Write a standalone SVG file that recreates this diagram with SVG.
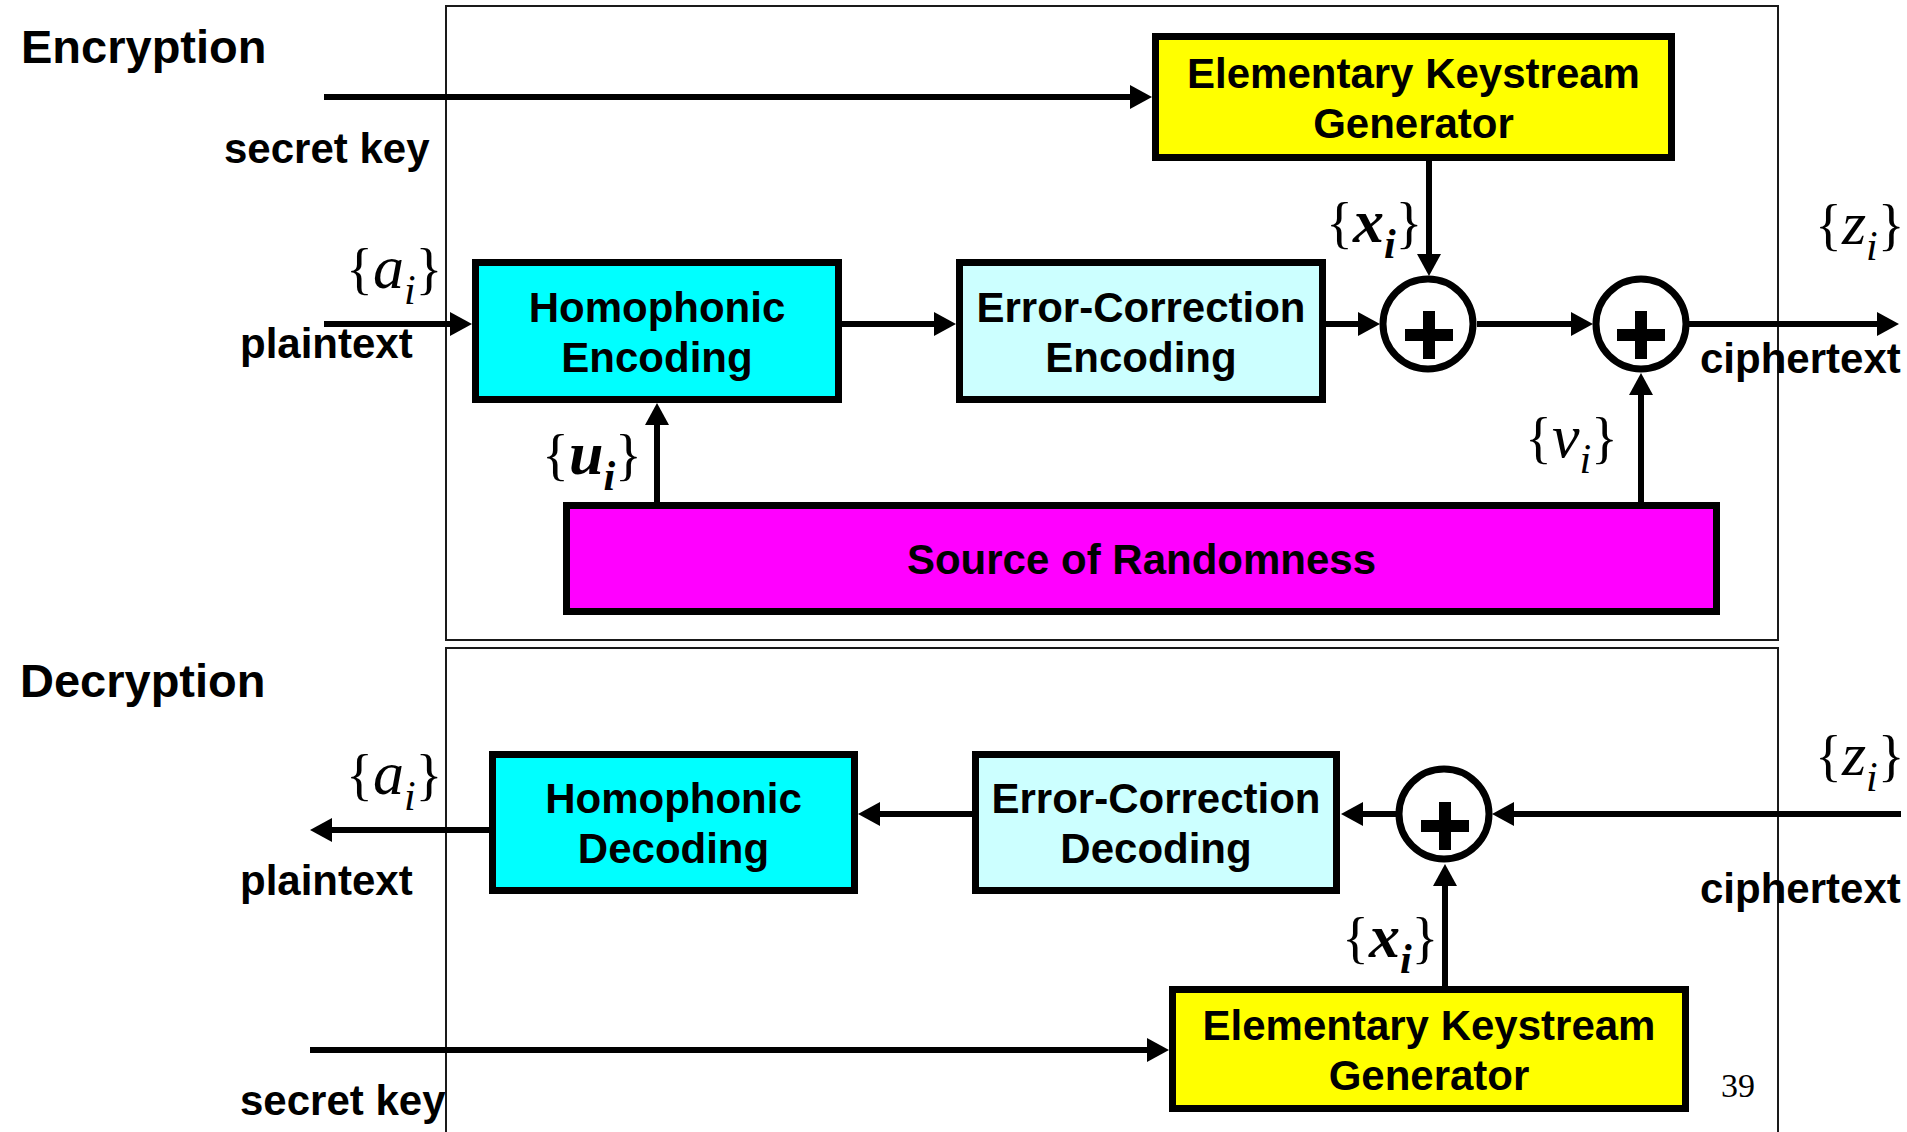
<svg xmlns="http://www.w3.org/2000/svg" width="1907" height="1132" viewBox="0 0 1907 1132">
<style>
.frame{fill:none;stroke:#1a1a1a;stroke-width:2}
.box{stroke:#000;stroke-width:7}
.yel{fill:#FFFF00}.cyan{fill:#00FFFF}.lcyan{fill:#CCFFFF}.mag{fill:#FF00FF}
.t{font-family:"Liberation Sans",Arial,sans-serif;font-weight:bold;font-size:42px;fill:#000}
.c{text-anchor:middle}
.title{font-family:"Liberation Sans",Arial,sans-serif;font-weight:bold;font-size:47px;fill:#000}
.m{font-family:"Liberation Serif","Times New Roman",serif;font-size:56px;fill:#000}
.it{font-style:italic;font-size:62px}
.bi{font-style:italic;font-weight:bold;font-size:62px}
.sub{font-style:italic;font-size:42px}
.subb{font-style:italic;font-weight:bold;font-size:42px}
.conn path{fill:none;stroke:#000;stroke-width:6;marker-end:url(#ah)}
.xor circle{fill:#fff;stroke:#000;stroke-width:7}
.xor rect{fill:#000}
</style>
<defs>
<marker id="ah" markerUnits="userSpaceOnUse" markerWidth="22" markerHeight="24" viewBox="0 0 22 24" refX="12" refY="12" orient="auto">
<path d="M0,0 L22,12 L0,24 z" fill="#000"/>
</marker>
</defs>
<rect width="1907" height="1132" fill="#fff"/>

<g id="frames">
<rect class="frame" x="446" y="6" width="1332" height="634"/>
<rect class="frame" x="446" y="648" width="1332" height="520"/>
</g>

<g id="titles">
<text class="title" x="21" y="63">Encryption</text>
<text class="title" x="20" y="697">Decryption</text>
</g>

<g id="connectors" class="conn">
<path d="M324,97 H1142"/>
<path d="M324,324 H462"/>
<path d="M842,324 H946"/>
<path d="M1326,324 H1370"/>
<path d="M1429,161 V266"/>
<path d="M1477,324 H1583"/>
<path d="M1689,324 H1889"/>
<path d="M657,502 V413"/>
<path d="M1641,502 V383"/>
<path d="M1901,814 H1502"/>
<path d="M1396,814 H1351"/>
<path d="M972,814 H868"/>
<path d="M489,830 H320"/>
<path d="M310,1050 H1159"/>
<path d="M1445,986 V874"/>
</g>

<g id="ekg-enc">
<rect class="box yel" x="1155.5" y="36.5" width="516" height="121"/>
<text class="t c" x="1413.5" y="88">Elementary Keystream</text>
<text class="t c" x="1413.5" y="138">Generator</text>
</g>

<g id="homophonic-enc">
<rect class="box cyan" x="475.5" y="262.5" width="363" height="137"/>
<text class="t c" x="657" y="322">Homophonic</text>
<text class="t c" x="657" y="372">Encoding</text>
</g>

<g id="ecc-enc">
<rect class="box lcyan" x="959.5" y="262.5" width="363" height="137"/>
<text class="t c" x="1141" y="322">Error-Correction</text>
<text class="t c" x="1141" y="372">Encoding</text>
</g>

<g id="xor1" class="xor">
<circle cx="1428" cy="324" r="45"/>
<rect x="1405" y="329" width="48" height="12"/>
<rect x="1423" y="311" width="12" height="48"/>
</g>

<g id="xor2" class="xor">
<circle cx="1641" cy="324" r="45"/>
<rect x="1617" y="329" width="48" height="12"/>
<rect x="1635" y="311" width="12" height="48"/>
</g>

<g id="source-randomness">
<rect class="box mag" x="566.5" y="505.5" width="1150" height="106"/>
<text class="t c" x="1141.5" y="574">Source of Randomness</text>
</g>

<g id="homophonic-dec">
<rect class="box cyan" x="492.5" y="754.5" width="362" height="136"/>
<text class="t c" x="673.5" y="813">Homophonic</text>
<text class="t c" x="673.5" y="863">Decoding</text>
</g>

<g id="ecc-dec">
<rect class="box lcyan" x="975.5" y="754.5" width="361" height="136"/>
<text class="t c" x="1156" y="813">Error-Correction</text>
<text class="t c" x="1156" y="863">Decoding</text>
</g>

<g id="xor-dec" class="xor">
<circle cx="1444" cy="814" r="45"/>
<rect x="1421" y="820" width="48" height="12"/>
<rect x="1439" y="802" width="12" height="48"/>
</g>

<g id="ekg-dec">
<rect class="box yel" x="1172.5" y="989.5" width="513" height="119"/>
<text class="t c" x="1429" y="1040">Elementary Keystream</text>
<text class="t c" x="1429" y="1090">Generator</text>
</g>

<g id="labels">
<text class="t" x="224" y="163">secret key</text>
<text class="t" x="240" y="358">plaintext</text>
<text class="t" x="1700" y="373">ciphertext</text>
<text class="t" x="240" y="895">plaintext</text>
<text class="t" x="240" y="1115">secret key</text>
<text class="t" x="1700" y="903">ciphertext</text>
<text x="1721" y="1097" font-family="Liberation Serif, serif" font-size="34">39</text>

<text class="m" x="346" y="288">{<tspan class="it">a</tspan><tspan class="sub" dy="16">i</tspan><tspan dy="-16">}</tspan></text>
<text class="m" x="1326" y="242">{<tspan class="bi">x</tspan><tspan class="subb" dy="16">i</tspan><tspan dy="-16">}</tspan></text>
<text class="m" x="1815" y="244">{<tspan class="it">z</tspan><tspan class="sub" dy="16">i</tspan><tspan dy="-16">}</tspan></text>
<text class="m" x="542" y="474">{<tspan class="bi">u</tspan><tspan class="subb" dy="16">i</tspan><tspan dy="-16">}</tspan></text>
<text class="m" x="1525" y="457">{<tspan class="it">v</tspan><tspan class="sub" dy="16">i</tspan><tspan dy="-16">}</tspan></text>
<text class="m" x="346" y="794">{<tspan class="it">a</tspan><tspan class="sub" dy="16">i</tspan><tspan dy="-16">}</tspan></text>
<text class="m" x="1342" y="957">{<tspan class="bi">x</tspan><tspan class="subb" dy="16">i</tspan><tspan dy="-16">}</tspan></text>
<text class="m" x="1815" y="775">{<tspan class="it">z</tspan><tspan class="sub" dy="16">i</tspan><tspan dy="-16">}</tspan></text>
</g>
</svg>
